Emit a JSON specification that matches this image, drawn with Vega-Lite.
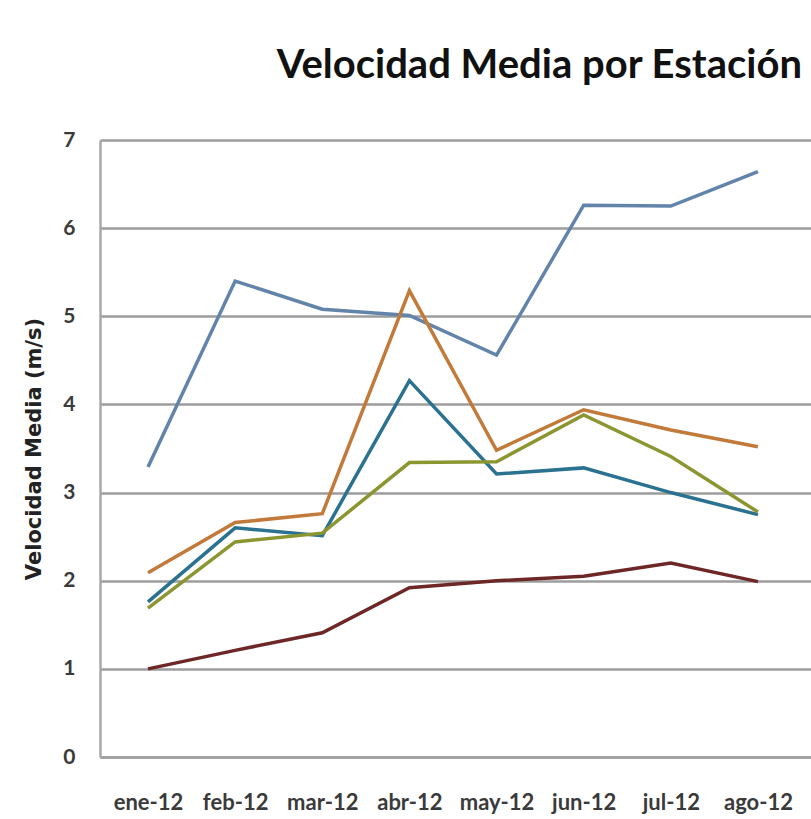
{
  "$schema": "https://vega.github.io/schema/vega-lite/v6.json",
  "autosize": {"type": "none"},
  "width": 711,
  "height": 617,
  "padding": {"left": 100, "top": 140, "right": 0, "bottom": 62},
  "background": "white",
  "config": {
    "view": {"stroke": null},
    "font": "Lato"
  },
  "title": {
    "text": "Velocidad Media por Estación",
    "font": "Lato",
    "fontSize": 40,
    "fontWeight": "bold",
    "color": "#111111",
    "anchor": "start",
    "baseline": "alphabetic",
    "dx": 253,
    "offset": 11
  },
  "data": {
    "values": [
      {"mes": "ene-12", "serie": "Estación 1", "v": 3.29},
      {"mes": "feb-12", "serie": "Estación 1", "v": 5.4},
      {"mes": "mar-12", "serie": "Estación 1", "v": 5.08},
      {"mes": "abr-12", "serie": "Estación 1", "v": 5.01},
      {"mes": "may-12", "serie": "Estación 1", "v": 4.56},
      {"mes": "jun-12", "serie": "Estación 1", "v": 6.26},
      {"mes": "jul-12", "serie": "Estación 1", "v": 6.25},
      {"mes": "ago-12", "serie": "Estación 1", "v": 6.64},
      {"mes": "ene-12", "serie": "Estación 2", "v": 2.09},
      {"mes": "feb-12", "serie": "Estación 2", "v": 2.66},
      {"mes": "mar-12", "serie": "Estación 2", "v": 2.76},
      {"mes": "abr-12", "serie": "Estación 2", "v": 5.29},
      {"mes": "may-12", "serie": "Estación 2", "v": 3.48},
      {"mes": "jun-12", "serie": "Estación 2", "v": 3.94},
      {"mes": "jul-12", "serie": "Estación 2", "v": 3.71},
      {"mes": "ago-12", "serie": "Estación 2", "v": 3.52},
      {"mes": "ene-12", "serie": "Estación 3", "v": 1.76},
      {"mes": "feb-12", "serie": "Estación 3", "v": 2.6},
      {"mes": "mar-12", "serie": "Estación 3", "v": 2.51},
      {"mes": "abr-12", "serie": "Estación 3", "v": 4.27},
      {"mes": "may-12", "serie": "Estación 3", "v": 3.21},
      {"mes": "jun-12", "serie": "Estación 3", "v": 3.28},
      {"mes": "jul-12", "serie": "Estación 3", "v": 3.0},
      {"mes": "ago-12", "serie": "Estación 3", "v": 2.75},
      {"mes": "ene-12", "serie": "Estación 4", "v": 1.69},
      {"mes": "feb-12", "serie": "Estación 4", "v": 2.44},
      {"mes": "mar-12", "serie": "Estación 4", "v": 2.54},
      {"mes": "abr-12", "serie": "Estación 4", "v": 3.34},
      {"mes": "may-12", "serie": "Estación 4", "v": 3.35},
      {"mes": "jun-12", "serie": "Estación 4", "v": 3.88},
      {"mes": "jul-12", "serie": "Estación 4", "v": 3.41},
      {"mes": "ago-12", "serie": "Estación 4", "v": 2.78},
      {"mes": "ene-12", "serie": "Estación 5", "v": 1.0},
      {"mes": "feb-12", "serie": "Estación 5", "v": 1.21},
      {"mes": "mar-12", "serie": "Estación 5", "v": 1.41},
      {"mes": "abr-12", "serie": "Estación 5", "v": 1.92},
      {"mes": "may-12", "serie": "Estación 5", "v": 2.0},
      {"mes": "jun-12", "serie": "Estación 5", "v": 2.05},
      {"mes": "jul-12", "serie": "Estación 5", "v": 2.2},
      {"mes": "ago-12", "serie": "Estación 5", "v": 1.99}
    ]
  },
  "mark": {"type": "line", "strokeWidth": 3.5},
  "encoding": {
    "x": {
      "field": "mes",
      "type": "ordinal",
      "sort": null,
      "scale": {"type": "point", "padding": 0.58, "align": 0.475},
      "axis": {
        "title": null,
        "labelAngle": 0,
        "labelFont": "Lato",
        "labelFontSize": 22,
        "labelFontWeight": "bold",
        "labelColor": "#3a3a3a",
        "labelPadding": 35,
        "labelOverlap": false,
        "ticks": false,
        "domainColor": "#a0a0a0",
        "domainWidth": 2.5
      }
    },
    "y": {
      "field": "v",
      "type": "quantitative",
      "scale": {"domain": [0, 7], "nice": false},
      "axis": {
        "title": "Velocidad Media (m/s)",
        "titleFont": "DejaVu Sans",
        "titleFontSize": 21,
        "titleFontWeight": "bold",
        "titleColor": "#222222",
        "titlePadding": 18,
        "values": [0, 1, 2, 3, 4, 5, 6, 7],
        "labelFont": "Lato",
        "labelFontSize": 21,
        "labelFontWeight": "bold",
        "labelColor": "#3a3a3a",
        "labelPadding": 25,
        "ticks": false,
        "grid": true,
        "gridColor": "#9c9c9c",
        "gridWidth": 2.5,
        "domainColor": "#a8a8a8",
        "domainWidth": 2.5
      }
    },
    "color": {
      "field": "serie",
      "type": "nominal",
      "legend": null,
      "scale": {
        "domain": ["Estación 1", "Estación 2", "Estación 3", "Estación 4", "Estación 5"],
        "range": ["#6384aa", "#c27a3a", "#2b7190", "#8c9630", "#6e2727"]
      }
    }
  }
}
